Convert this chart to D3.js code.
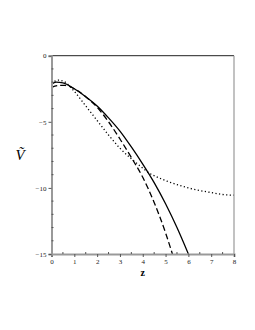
<!DOCTYPE html>
<html>
<head>
<meta charset="utf-8">
<script src="https://cdn.jsdelivr.net/npm/d3@7"></script>
<style>
  body { margin: 0; background: #fff; }
  svg { display: block; }
  .tick-label { font-family: "Liberation Serif", "DejaVu Serif", serif; font-size: 7px; fill: #222; }
</style>
</head>
<body>
<div id="chart"></div>
<script>
// data
const zSolid  = [0, 0.2, 0.5, 1, 1.5, 2, 2.5, 3, 3.5, 4, 4.5, 5, 5.5, 6];
const vSolid  = [-2.15, -2.0, -2.05, -2.5, -3.1, -3.8, -4.7, -5.7, -6.9, -8.2, -9.6, -11.2, -13.0, -15.0];

const zDashed = [0, 0.3, 0.6, 1, 1.5, 2, 2.5, 3, 3.5, 4, 4.5, 5, 5.3];
const vDashed = [-2.4, -2.25, -2.25, -2.5, -3.1, -3.9, -5.0, -6.3, -7.7, -9.2, -11.1, -13.4, -15.0];

const zDotted = [0, 0.3, 0.6, 1, 1.5, 2, 2.5, 3, 3.5, 4, 4.3, 4.6, 5, 5.5, 6, 6.5, 7, 7.5, 8];
const vDotted = [-2.1, -1.85, -2.0, -2.7, -3.8, -4.9, -6.0, -7.0, -7.8, -8.5, -8.9, -9.15, -9.45, -9.75, -10.0, -10.2, -10.35, -10.5, -10.55];

const xTicks = [0, 1, 2, 3, 4, 5, 6, 7, 8];
const yTicks = [0, -5, -10, -15];

const width = 255, height = 330;
const margin = { left: 51.5, right: 21, top: 55.7, bottom: 76 };

const svg = d3.select("#chart").append("svg")
    .attr("width", width)
    .attr("height", height);

const x = d3.scaleLinear().domain([0, 8]).range([margin.left, width - margin.right]);
const y = d3.scaleLinear().domain([-15, 0]).range([height - margin.bottom, margin.top]);

const x0 = x(0), x1 = x(8), y0 = y(-15), y1 = y(0);

// clip so curves stop at the frame
svg.append("clipPath").attr("id", "clip")
    .append("rect").attr("x", x0).attr("y", y1).attr("width", x1 - x0).attr("height", y0 - y1);

const line = d3.line()
    .x(d => x(d[0]))
    .y(d => y(d[1]))
    .curve(d3.curveMonotoneX);

const series = [
    { z: zSolid, v: vSolid, dash: null },
    { z: zDashed, v: vDashed, dash: "6,3" },
    { z: zDotted, v: vDotted, dash: "1.2,2.4" }
];

const plot = svg.append("g").attr("clip-path", "url(#clip)");
series.forEach(s => {
    plot.append("path")
        .datum(s.z.map((z, i) => [z, s.v[i]]))
        .attr("d", line)
        .attr("fill", "none")
        .attr("stroke", "#000")
        .attr("stroke-width", 1.3)
        .attr("stroke-dasharray", s.dash);
});

// frame: top black, others gray
svg.append("line").attr("x1", x0).attr("x2", x1).attr("y1", y1).attr("y2", y1)
    .attr("stroke", "#222").attr("stroke-width", 1);
svg.append("line").attr("x1", x1).attr("x2", x1).attr("y1", y1).attr("y2", y0)
    .attr("stroke", "#999").attr("stroke-width", 1.2);

// x axis
const xAxis = d3.axisBottom(x).tickValues(xTicks).tickSize(3).tickPadding(2).tickFormat(d3.format("d"));
const gx = svg.append("g").attr("transform", `translate(0,${y0})`).call(xAxis);
gx.select(".domain").attr("stroke", "#999").attr("stroke-width", 2);
gx.selectAll(".tick line").attr("stroke", "#555");
gx.selectAll(".tick text").attr("class", "tick-label").attr("font-family", null).attr("font-size", null);
const xMinor = d3.range(0.5, 8, 1);
gx.selectAll(".minor").data(xMinor).enter().append("line")
    .attr("x1", d => x(d)).attr("x2", d => x(d)).attr("y1", 0).attr("y2", -2)
    .attr("stroke", "#555");

// y axis
const yAxis = d3.axisLeft(y).tickValues(yTicks).tickSize(3).tickPadding(2)
    .tickFormat(d => d < 0 ? "\u2212" + Math.abs(d) : d);
const gy = svg.append("g").attr("transform", `translate(${x0},0)`).call(yAxis);
gy.select(".domain").attr("stroke", "#999").attr("stroke-width", 2);
gy.selectAll(".tick line").attr("stroke", "#555");
gy.selectAll(".tick text").attr("class", "tick-label").attr("font-family", null).attr("font-size", null);
const yMinor = d3.range(-14, 0, 1).filter(d => d % 5 !== 0);
gy.selectAll(".minor").data(yMinor).enter().append("line")
    .attr("x1", 0).attr("x2", 2).attr("y1", d => y(d)).attr("y2", d => y(d))
    .attr("stroke", "#555");

// axis titles
svg.append("text")
    .attr("x", x(4)).attr("y", y0 + 22)
    .attr("text-anchor", "middle")
    .style("font-family", "Liberation Serif, serif")
    .style("font-weight", "bold")
    .style("font-size", "10px")
    .text("z");

svg.append("text")
    .attr("x", 20).attr("y", y(-7.5) + 5)
    .attr("text-anchor", "middle")
    .style("font-family", "Liberation Serif, serif")
    .style("font-style", "italic")
    .style("font-size", "15px")
    .text("V\u0303");
</script>
</body>
</html>
